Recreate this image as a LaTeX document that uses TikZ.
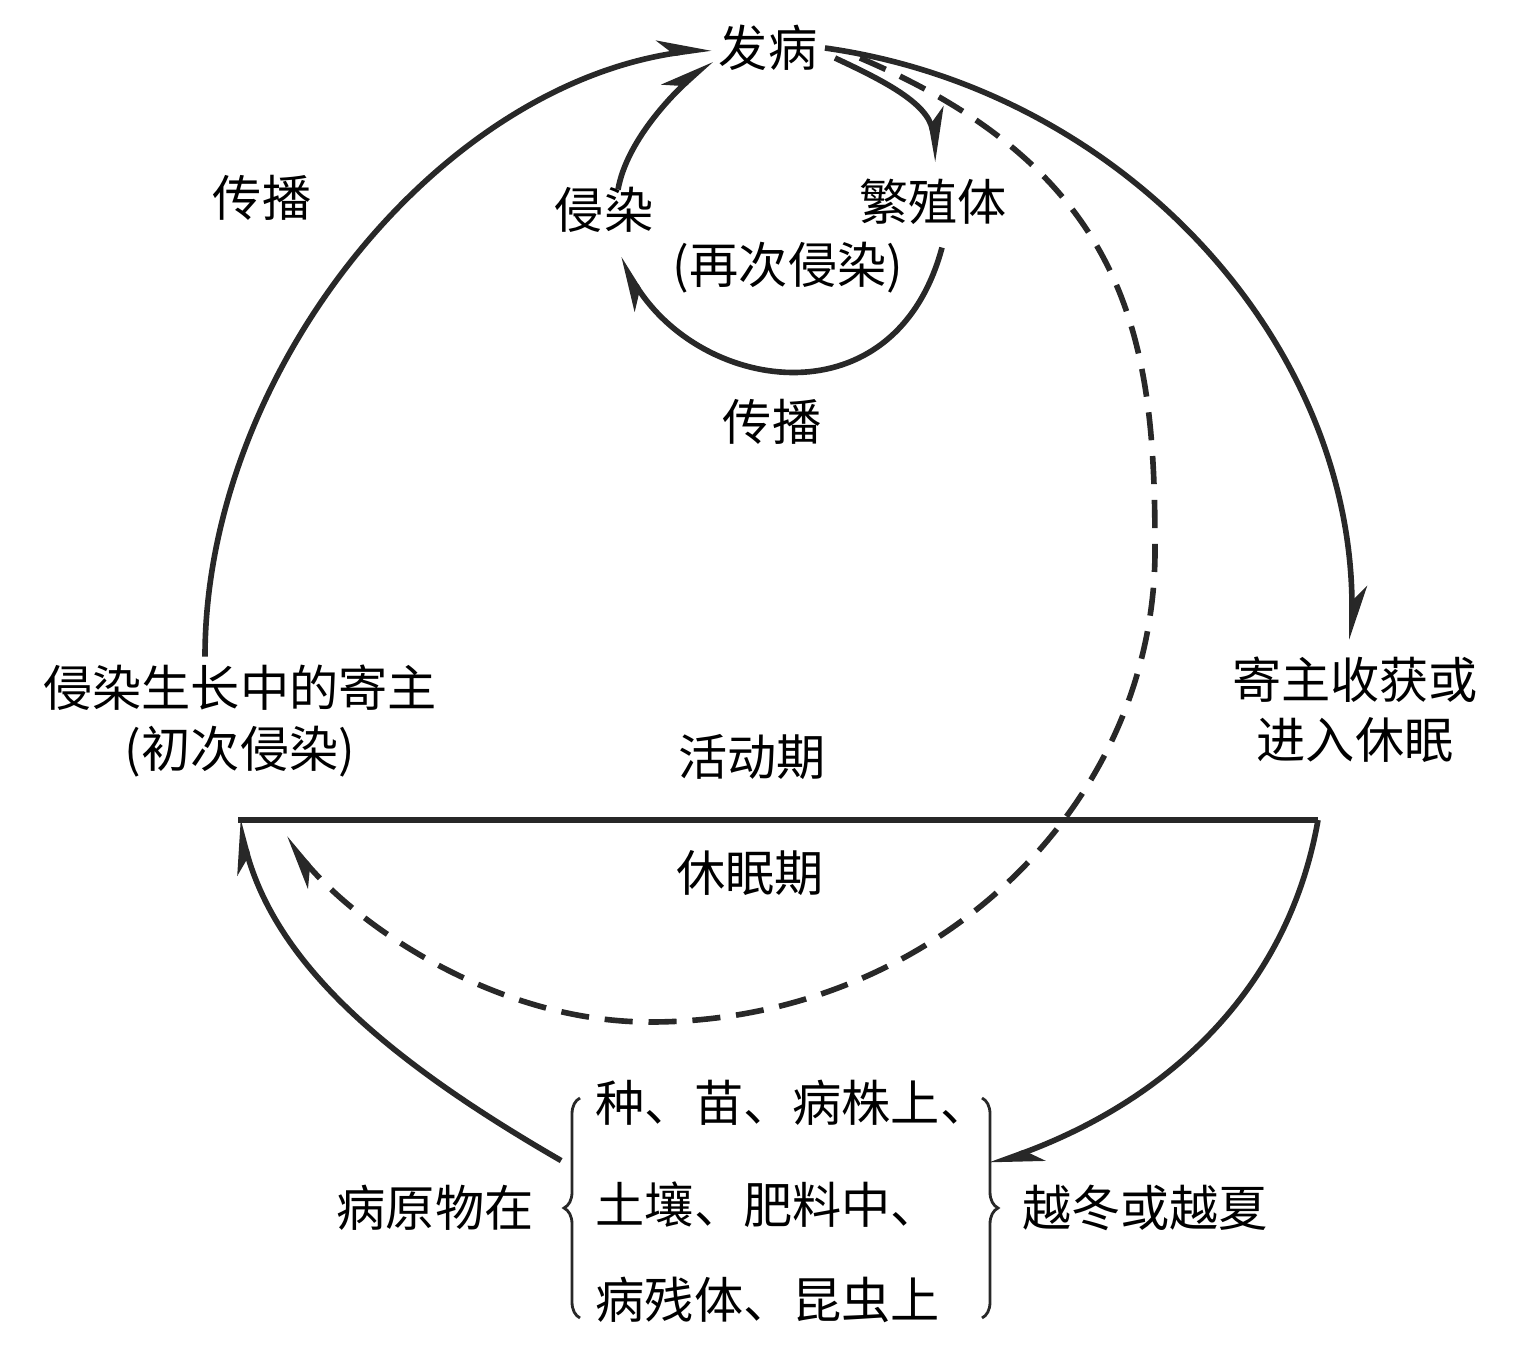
\documentclass[tikz,border=0pt]{standalone}
\usepackage{fontspec}
\setmainfont{Liberation Serif}
\newfontfamily\cjk{Noto Sans CJK SC}
\usepackage{tikz}
\usetikzlibrary{arrows.meta, positioning, decorations.pathreplacing, calc}
\definecolor{inkgray}{RGB}{40,40,40}
\tikzset{
    lbl/.style={font=\cjk\fontsize{14pt}{17.6pt}\selectfont, align=center, inner sep=2pt, text=black},
    flow/.style={line width=1.6pt, draw=inkgray, -{Stealth[harpoon, length=4.5mm, width=3mm]}},
    dashflow/.style={flow, dash pattern=on 8pt off 4.5pt},
    phase/.style={line width=1.7pt, draw=inkgray},
    curly/.style={decorate, decoration={brace, amplitude=0.16cm}, line width=0.8pt, draw=inkgray}
}

\begin{document}
\begin{tikzpicture}
    \useasboundingbox (0,0) rectangle (15.36,-13.60);

    % Upper half: the disease cycle
    \node[lbl] (onset) at (7.68,-0.48) {发病};
    \node[lbl] (spreadL) at (2.62,-1.98) {传播};
    \node[lbl] (infect) at (6.04,-2.10) {侵染};
    \node[lbl] (propag) at (9.33,-2.02) {繁殖体};
    \node[lbl] (reinf) at (7.88,-2.68) {(再次侵染)};
    \node[lbl] (spreadM) at (7.72,-4.22) {传播};

    \node[lbl] (host) at (2.40,-7.21) {侵染生长中的寄主\\(初次侵染)};
    \node[lbl, font=\cjk\fontsize{14pt}{17pt}\selectfont] (harvest) at (13.55,-7.10) {寄主收获或\\进入休眠};

    % Phase divider
    \coordinate (lineL) at (2.38,-8.20);
    \coordinate (lineR) at (13.18,-8.20);
    \draw[phase] (lineL) -- (lineR);
    \node[lbl] (active) at (7.52,-7.57) {活动期};
    \node[lbl] (dormant) at (7.50,-8.73) {休眠期};

    % Lower half: where the pathogen survives
    \node[lbl] (pathogen) at (4.35,-12.08) {病原物在};
    \node[lbl, anchor=west] (item1) at (5.88,-11.03) {种、苗、病株上、};
    \node[lbl, anchor=west] (item2) at (5.88,-12.05) {土壤、肥料中、};
    \node[lbl, anchor=west] (item3) at (5.88,-13.00) {病残体、昆虫上};
    \node[lbl] (overw) at (11.45,-12.08) {越冬或越夏};

    \draw[curly] (5.80,-13.18) -- (5.80,-10.98);
    \draw[curly] (9.82,-10.98) -- (9.82,-13.18);
    \coordinate (winter) at (9.90,-11.65);

    % Big cycle
    \draw[flow] ([xshift=-3.5mm]host.north) .. controls +(90:2.8) and +(188:2.8) .. (onset.west);
    \draw[flow] (onset.east) .. controls +(-8:3.0) and +(90:3.0) .. ([xshift=-0.3mm,yshift=1mm]harvest.north);
    \draw[flow] (lineR) .. controls +(-100:1.8) and +(20:1.8) .. (winter);
    \draw[flow] ([shift={(0.2,0.17)}]pathogen.north east) .. controls +(150:2) and +(-75:1.5) .. (lineL);

    % Small cycle (re-infection)
    \draw[flow] ([xshift=1mm,yshift=-1mm]onset.east) .. controls +(-25:0.5) and +(100:0.6) .. ([xshift=0.5mm,yshift=1mm]propag.north);
    \draw[flow] ([xshift=0.9mm,yshift=-1.5mm]propag.south) .. controls +(-105:1.8) and +(-58:1.6) .. ([xshift=1.5mm,yshift=-1.8mm]infect.south);
    \draw[flow] ([xshift=1.4mm,yshift=-1mm]infect.north) .. controls +(80:0.5) and +(222:0.5) .. ([yshift=-1.2mm]onset.west);

    % Dashed return to the active phase
    \coordinate (dashturn) at (11.55,-5.50);
    \coordinate (dashlow) at (6.50,-10.22);
    \coordinate (dashend) at (2.85,-8.38);
    \draw[dashflow] ([xshift=3.5mm,yshift=-1mm]onset.east) .. controls +(-23:3.0) and +(90:2.0) .. (dashturn)
        .. controls +(-90:2.6) and +(0:2.78) .. (dashlow)
        .. controls +(180:1.5) and +(-50:1.2) .. (dashend);
\end{tikzpicture}
\end{document}
